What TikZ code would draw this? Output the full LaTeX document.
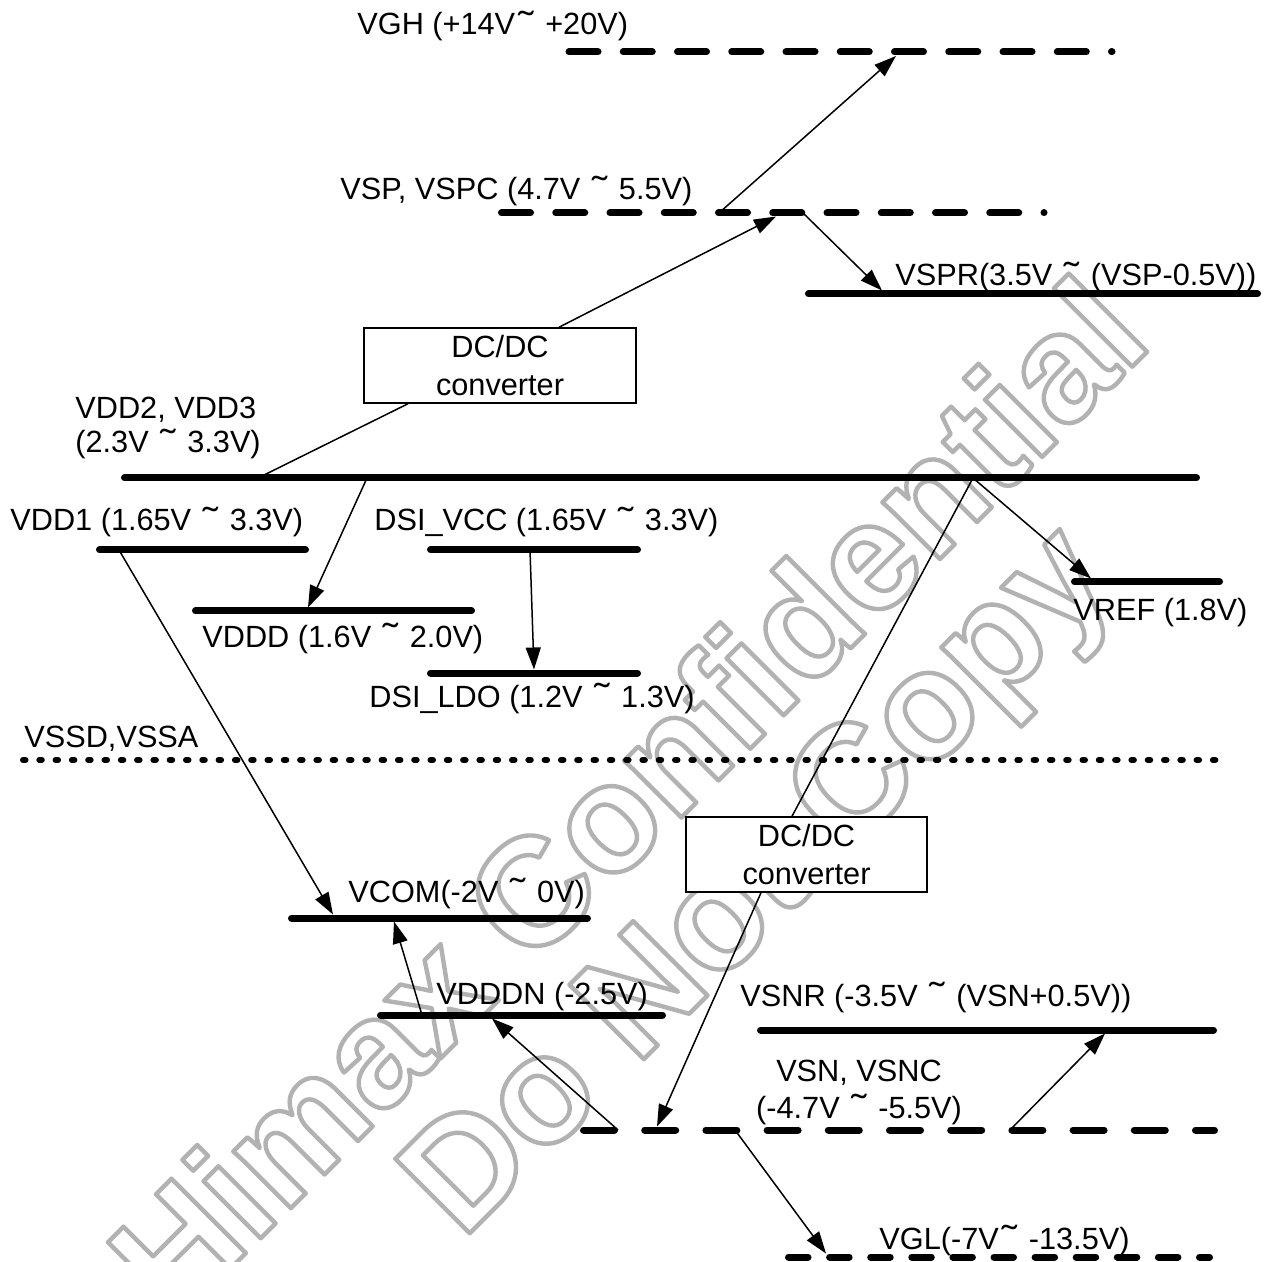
\documentclass[tikz,border=0pt]{standalone}
\usepackage{fontspec}
\setmainfont{Liberation Sans}
\usetikzlibrary{arrows.meta,calc}
\definecolor{wmgray}{RGB}{178,178,178}
\newcommand\tld{\makebox[0.7em]{\raisebox{-0.06em}{\scalebox{1.5}[1.15]{˜}}}}
\newcommand\hollow[1]{\special{pdf:literal direct 0.7 G 2.2 w 1 j 1 Tr}#1\special{pdf:literal direct 0 Tr}}
\tikzset{
  lvl/.style={line width=3.5pt,line cap=round},
  lbl/.style={inner sep=0pt,anchor=base west,font=\fontsize{15.35}{17}\selectfont},
  conn/.style={line width=0.75pt,-{Triangle[length=11pt,width=7.5pt]}},
  wire/.style={line width=0.75pt},
  dcbox/.style={draw,fill=white,line width=0.75pt,align=center,minimum height=37.5pt,inner sep=0pt,font=\fontsize{15.35}{19}\selectfont},
  wmark/.style={inner sep=0pt,anchor=base,rotate=45,text=wmgray,font=\fontsize{76.5}{76.5}\selectfont\bfseries}
}

\begin{document}
\begin{tikzpicture}[x=0.5pt,y=-0.5pt]
	\useasboundingbox[fill=white] (0,0) rectangle (1270,1262);
	% watermark
	\node[wmark] (wm1) at (665,834) {\hollow{Himax Confidential}};
	\node[wmark] (wm2) at (790,913) {\hollow{Do Not Copy}};
	% levels
	\draw[lvl,dash pattern=on 14.5pt off 12.625pt] (569,52) -- (1112,52);
	\draw[lvl,dash pattern=on 14.5pt off 12.625pt] (501.5,213) -- (1044,213);
	\draw[lvl] (808.5,294) -- (1257.5,294);
	\draw[lvl] (124.5,478) -- (1196.5,478);
	\draw[lvl] (99.5,550) -- (305.5,550);
	\draw[lvl] (430.5,550) -- (637.5,550);
	\draw[lvl] (195.5,611) -- (471.5,611);
	\draw[lvl] (430.5,673) -- (637.5,673);
	\draw[lvl] (1074.5,582) -- (1219.5,582);
	\draw[line width=3pt,line cap=round,dash pattern=on 1.25pt off 6.9pt] (23,760) -- (1226,760);
	\draw[lvl] (291.5,918) -- (587.5,918);
	\draw[lvl] (380.5,1015) -- (662.5,1015);
	\draw[lvl] (760.5,1030) -- (1213.5,1030);
	\draw[lvl,dash pattern=on 15.5pt off 15.1pt] (583.5,1130) -- (1214.5,1130);
	\draw[lvl,dash pattern=on 9.75pt off 10.8pt] (788.5,1257) -- (1209.5,1257);
	% labels
	\node[lbl] (vghL) at (357,35) {VGH (+14V\tld{} +20V)};
	\node[lbl] (vspL) at (340,200) {VSP, VSPC (4.7V \tld{} 5.5V)};
	\node[lbl] (vsprL) at (895,286) {VSPR(3.5V \tld{} (VSP-0.5V))};
	\node[lbl,align=left] (vdd2L) at (75,453) {VDD2, VDD3\\(2.3V \tld{} 3.3V)};
	\node[lbl] (vdd1L) at (10,531) {VDD1 (1.65V \tld{} 3.3V)};
	\node[lbl] (dsivL) at (374,531) {DSI\_VCC (1.65V \tld{} 3.3V)};
	\node[lbl] (vdddL) at (202,647) {VDDD (1.6V \tld{} 2.0V)};
	\node[lbl] (dsilL) at (369,707) {DSI\_LDO (1.2V \tld{} 1.3V)};
	\node[lbl] (vrefL) at (1073,621) {VREF (1.8V)};
	\node[lbl] (vssL) at (24,747) {VSSD,VSSA};
	\node[lbl] (vcomL) at (348,902) {VCOM(-2V \tld{} 0V)};
	\node[lbl] (vdddnL) at (436,1004) {VDDDN (-2.5V)};
	\node[lbl] (vsnrL) at (740,1006) {VSNR (-3.5V \tld{} (VSN+0.5V))};
	\node[lbl,anchor=base,align=center,font=\fontsize{15.35}{18.5}\selectfont] (vsnL) at (859,1118) {VSN, VSNC\\(-4.7V \tld{} -5.5V)};
	\node[lbl] (vglL) at (879,1249) {VGL(-7V\tld{} -13.5V)};
	% converters
	\node[dcbox,minimum width=136pt] (dcup) at (500,365.5) {DC/DC\\converter};
	\node[dcbox,minimum width=120.5pt] (dcdn) at (806.5,854.5) {DC/DC\\converter};
	% connector ends
	\coordinate (vghA) at (896,56);
	\coordinate (vspA) at (719,213);
	\coordinate (vspB) at (776,216.5);
	\coordinate (vspC) at (803,213);
	\coordinate (vsprA) at (882,290.5);
	\coordinate (vddA) at (258,478);
	\coordinate (vddB) at (367,478);
	\coordinate (vddC) at (973,478);
	\coordinate (vdd1A) at (119,550);
	\coordinate (dsivA) at (530,550);
	\coordinate (vdddA) at (308,607.5);
	\coordinate (dsilA) at (534,669.5);
	\coordinate (vrefA) at (1091,578.5);
	\coordinate (vcomA) at (333,914.5);
	\coordinate (vcomB) at (394,921.5);
	\coordinate (vdddnA) at (422,1015);
	\coordinate (vdddnB) at (492,1018.5);
	\coordinate (vsnrA) at (1105,1033.5);
	\coordinate (vsnA) at (657,1126.5);
	\coordinate (vsnB) at (618,1130);
	\coordinate (vsnC) at (1010,1130);
	\coordinate (vsnD) at (735,1130);
	\coordinate (vglA) at (826,1253.5);
	% connectors
	\draw[conn] (vspA) -- (vghA);
	\draw[wire] (vddA) -- ([xshift=-46pt]dcup.south);
	\draw[conn] ([xshift=29.5pt]dcup.north) -- (vspB);
	\draw[conn] (vspC) -- (vsprA);
	\draw[conn] (vddB) -- (vdddA);
	\draw[conn] (dsivA) -- (dsilA);
	\draw[conn] (vddC) -- (vrefA);
	\draw[conn] (vdd1A) -- (vcomA);
	\draw[wire] (vddC) -- ([xshift=-7.25pt]dcdn.north);
	\draw[conn] ([xshift=-22.75pt]dcdn.south) -- (vsnA);
	\draw[conn] (vdddnA) -- (vcomB);
	\draw[conn] (vsnB) -- (vdddnB);
	\draw[conn] (vsnC) -- (vsnrA);
	\draw[conn] (vsnD) -- (vglA);
\end{tikzpicture}
\end{document}
